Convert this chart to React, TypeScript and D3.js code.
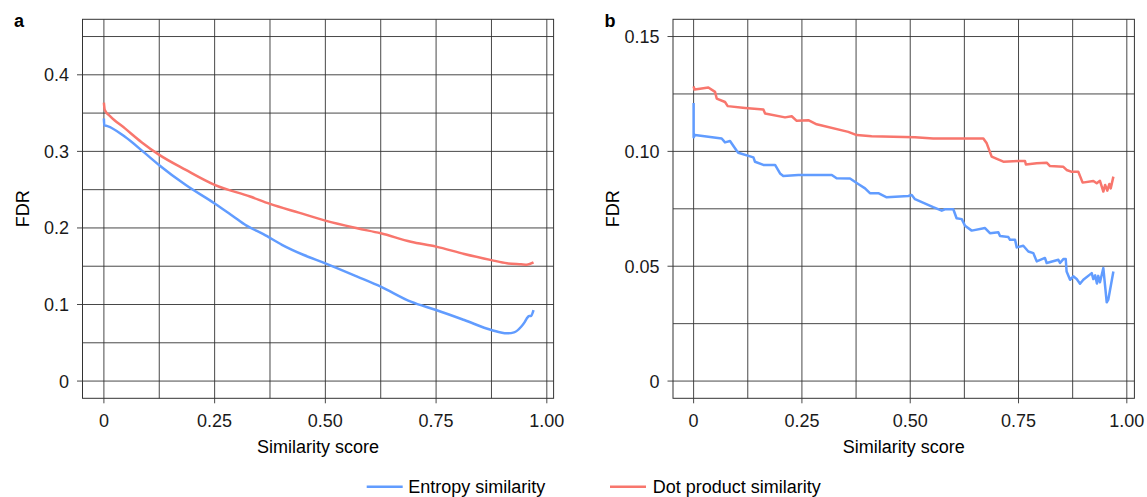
import React from "react";
import * as d3 from "d3";

// ---------- data ----------
const xTicks = [0, 0.25, 0.5, 0.75, 1];
const xTickLabels = ["0", "0.25", "0.50", "0.75", "1.00"];
const xMinor = [0.125, 0.375, 0.625, 0.875];

const yTicksA = [0, 0.1, 0.2, 0.3, 0.4];
const yTickLabelsA = ["0", "0.1", "0.2", "0.3", "0.4"];
const yMinorA = [0.05, 0.15, 0.25, 0.35, 0.45];

const yTicksB = [0, 0.05, 0.1, 0.15];
const yTickLabelsB = ["0", "0.05", "0.10", "0.15"];
const yMinorB = [0.025, 0.075, 0.125];

const seriesNames = ["Entropy similarity", "Dot product similarity"];
const seriesColors = ["#619CFF", "#F8766D"];

// [similarity score, FDR]
const entropyA: [number, number][] = [
  [0, 0.343], [0.0008, 0.334], [0.008, 0.333], [0.0476, 0.319], [0.09, 0.299], [0.125, 0.282],
  [0.185, 0.256], [0.25, 0.232], [0.29, 0.216], [0.322, 0.203], [0.36, 0.192], [0.402, 0.178],
  [0.45, 0.165], [0.5, 0.1538], [0.572, 0.1364], [0.625, 0.1233], [0.693, 0.1037], [0.75, 0.0928],
  [0.8137, 0.0797], [0.875, 0.0667], [0.91, 0.0623], [0.926, 0.0636], [0.942, 0.071],
  [0.95, 0.077], [0.955, 0.082], [0.96, 0.085], [0.964, 0.085], [0.97, 0.0928],
];
const dotA: [number, number][] = [
  [0, 0.3638], [0.002, 0.354], [0.015, 0.3455], [0.0476, 0.33], [0.085, 0.312], [0.125, 0.2954],
  [0.185, 0.2758], [0.25, 0.2563], [0.33, 0.241], [0.375, 0.2314], [0.44, 0.22], [0.5, 0.2096],
  [0.572, 0.1996], [0.625, 0.193], [0.693, 0.182], [0.75, 0.1756], [0.8137, 0.166],
  [0.875, 0.158], [0.91, 0.1538], [0.942, 0.1525], [0.955, 0.152], [0.97, 0.155],
];
const entropyB: [number, number][] = [
  [0, 0.1211], [0, 0.1061], [0.003, 0.1071], [0.0648, 0.1056], [0.0725, 0.1039],
  [0.084, 0.1045], [0.0995, 0.1003], [0.103, 0.0994], [0.138, 0.0974], [0.1417, 0.0955],
  [0.161, 0.0941], [0.188, 0.0941], [0.1995, 0.0904], [0.207, 0.0893], [0.2417, 0.0897],
  [0.319, 0.0897], [0.33, 0.0883], [0.361, 0.0882], [0.38, 0.0858], [0.3957, 0.0839],
  [0.407, 0.0818], [0.4264, 0.0818], [0.4457, 0.08], [0.4957, 0.0806], [0.5035, 0.081],
  [0.511, 0.0792], [0.553, 0.0757], [0.5727, 0.0742], [0.58, 0.0748], [0.5995, 0.0748],
  [0.607, 0.0709], [0.619, 0.0705], [0.6265, 0.0676], [0.642, 0.0655], [0.6727, 0.0666],
  [0.684, 0.0644], [0.7034, 0.0648], [0.7073, 0.0632], [0.7265, 0.0627], [0.7304, 0.0615],
  [0.742, 0.0615], [0.7459, 0.0582], [0.761, 0.0589], [0.7727, 0.0564], [0.7842, 0.0557],
  [0.792, 0.0521], [0.811, 0.0536], [0.815, 0.0514], [0.842, 0.0528], [0.8458, 0.0514],
  [0.8535, 0.0531], [0.859, 0.0531], [0.861, 0.0477], [0.869, 0.0441], [0.8765, 0.0456],
  [0.8843, 0.0444], [0.892, 0.0424], [0.8996, 0.0441], [0.919, 0.047], [0.9227, 0.0444],
  [0.927, 0.046], [0.931, 0.0425], [0.934, 0.0458], [0.938, 0.043], [0.9458, 0.0492],
  [0.9536, 0.0343], [0.9573, 0.0355], [0.969, 0.0477],
];
const dotB: [number, number][] = [
  [0, 0.1283], [0.002, 0.1269], [0.0148, 0.1273], [0.034, 0.1278], [0.0494, 0.1259],
  [0.0533, 0.123], [0.0725, 0.1215], [0.0787, 0.1197], [0.1187, 0.1189], [0.161, 0.1182],
  [0.165, 0.1165], [0.211, 0.1148], [0.2265, 0.1153], [0.238, 0.1133], [0.2648, 0.1136],
  [0.284, 0.1118], [0.357, 0.1085], [0.3765, 0.1071], [0.411, 0.1066], [0.511, 0.1061],
  [0.553, 0.1056], [0.6688, 0.1056], [0.6766, 0.1035], [0.688, 0.0977], [0.715, 0.0955],
  [0.7496, 0.0958], [0.765, 0.0958], [0.767, 0.0943], [0.792, 0.0948], [0.815, 0.0951],
  [0.8227, 0.0936], [0.8535, 0.0933], [0.861, 0.0919], [0.873, 0.0911], [0.888, 0.0911],
  [0.898, 0.0864], [0.9227, 0.0871], [0.9305, 0.0861], [0.938, 0.0872], [0.9458, 0.0825],
  [0.95, 0.0854], [0.955, 0.0829], [0.9596, 0.0858], [0.9628, 0.0839], [0.969, 0.089],
];

const FONT = "'Liberation Sans', Arial, Helvetica, sans-serif";
const GRID = "#333";

type PanelProps = {
  letter: string;
  left: number;
  right: number;
  xDomain: [number, number];
  yDomain: [number, number];
  yTicks: number[];
  yTickLabels: string[];
  yMinor: number[];
  series: [number, number][][];
  smooth: boolean;
};

const TOP = 19.3;
const BOTTOM = 398.3;

function Panel({ letter, left, right, xDomain, yDomain, yTicks, yTickLabels, yMinor, series, smooth }: PanelProps) {
  const x = d3.scaleLinear().domain(xDomain).range([left, right]);
  const y = d3.scaleLinear().domain(yDomain).range([BOTTOM, TOP]);
  const line = d3
    .line<[number, number]>()
    .x((d) => x(d[0]))
    .y((d) => y(d[1]))
    .curve(smooth ? d3.curveMonotoneX : d3.curveLinear);
  const cx = (left + right) / 2;
  const cy = (TOP + BOTTOM) / 2;
  return (
    <g>
      <text x={left - 68.5} y={27.3} fontFamily={FONT} fontWeight="bold" fontSize={18} fill="#000">
        {letter}
      </text>
      {[...xMinor, ...xTicks].map((v, i) => (
        <line key={"gx" + i} x1={x(v)} x2={x(v)} y1={TOP} y2={BOTTOM} stroke={GRID} strokeWidth={0.9} />
      ))}
      {[...yMinor, ...yTicks].map((v, i) => (
        <line key={"gy" + i} x1={left} x2={right} y1={y(v)} y2={y(v)} stroke={GRID} strokeWidth={0.9} />
      ))}
      <rect x={left} y={TOP} width={right - left} height={BOTTOM - TOP} fill="none" stroke={GRID} strokeWidth={1} />
      {xTicks.map((v, i) => (
        <g key={"xt" + i}>
          <line x1={x(v)} x2={x(v)} y1={BOTTOM} y2={BOTTOM + 5} stroke={GRID} strokeWidth={0.9} />
          <text x={x(v)} y={426.5} textAnchor="middle" fontFamily={FONT} fontSize={18} fill="#1a1a1a">
            {xTickLabels[i]}
          </text>
        </g>
      ))}
      {yTicks.map((v, i) => (
        <g key={"yt" + i}>
          <line x1={left - 5.5} x2={left} y1={y(v)} y2={y(v)} stroke={GRID} strokeWidth={0.9} />
          <text x={left - 13.5} y={y(v) + 6.5} textAnchor="end" fontFamily={FONT} fontSize={18} fill="#1a1a1a">
            {yTickLabels[i]}
          </text>
        </g>
      ))}
      <text x={cx} y={453} textAnchor="middle" fontFamily={FONT} fontSize={18} fill="#000">
        Similarity score
      </text>
      <text
        transform={`translate(${left - 54},${cy}) rotate(-90)`}
        textAnchor="middle"
        fontFamily={FONT}
        fontSize={18}
        fill="#000"
      >
        FDR
      </text>
      {series.map((s, i) => (
        <path
          key={"s" + i}
          d={line(s) || ""}
          fill="none"
          stroke={seriesColors[i]}
          strokeWidth={2.5}
          strokeLinejoin="round"
          strokeLinecap="butt"
        />
      ))}
    </g>
  );
}

export default function App() {
  const legendItems = [
    { x1: 366.7, x2: 402.7, tx: 408.3 },
    { x1: 610, x2: 646, tx: 652.7 },
  ];
  return (
    <svg
      width={1147}
      height={497}
      viewBox="0 0 1147 497"
      style={{ position: "absolute", left: 0, top: 0, display: "block", background: "#fff" }}
    >
      <rect width={1147} height={497} fill="#fff" />
      <Panel
        letter="a"
        left={82.5}
        right={553.6}
        xDomain={[-0.0483, 1.0153]}
        yDomain={[-0.0225, 0.4725]}
        yTicks={yTicksA}
        yTickLabels={yTickLabelsA}
        yMinor={yMinorA}
        series={[entropyA, dotA]}
        smooth={true}
      />
      <Panel
        letter="b"
        left={673}
        right={1134.4}
        xDomain={[-0.0476, 1.0175]}
        yDomain={[-0.0075, 0.1575]}
        yTicks={yTicksB}
        yTickLabels={yTickLabelsB}
        yMinor={yMinorB}
        series={[entropyB, dotB]}
        smooth={false}
      />
      {legendItems.map((l, i) => (
        <g key={"lg" + i}>
          <line x1={l.x1} x2={l.x2} y1={486.7} y2={486.7} stroke={seriesColors[i]} strokeWidth={2.5} />
          <text x={l.tx} y={493} fontFamily={FONT} fontSize={18} fill="#000">
            {seriesNames[i]}
          </text>
        </g>
      ))}
    </svg>
  );
}
